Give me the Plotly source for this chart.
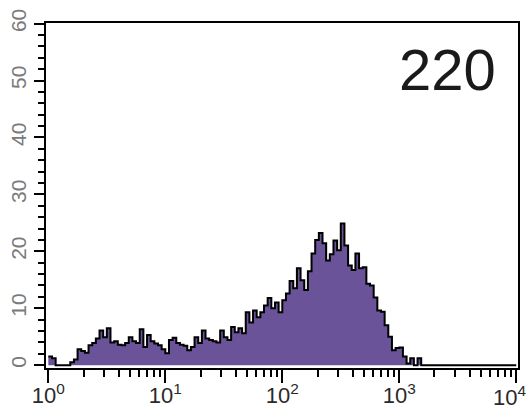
import plotly.graph_objects as go

# Histogram: 128 channels spanning 10^0 .. 10^4 (1/32 decade per channel)
decade_start = 0.0
decades = 4.0
counts = [
    1.5, 1.2, 0, 0, 0, 0, 0.5, 1.0, 2.8, 2.5,
    2.2, 3.5, 3.9, 4.7, 6.1, 4.9, 6.5, 4.0, 4.2, 3.6,
    3.5, 3.9, 4.9, 4.2, 3.9, 6.3, 3.2, 5.3, 4.2, 3.8,
    3.5, 2.8, 2.1, 4.4, 4.8, 3.9, 3.6, 3.4, 2.6, 3.2,
    4.9, 3.9, 6.1, 4.7, 4.4, 4.2, 4.0, 6.1, 4.9, 4.4,
    6.7, 5.8, 6.5, 5.6, 9.3, 7.5, 9.6, 8.4, 9.3, 10.5,
    11.8, 10.0, 11.0, 9.3, 11.4, 12.6, 14.8, 13.5, 17.0, 14.9,
    13.2, 16.5, 19.6, 22.0, 23.2, 21.4, 18.4, 19.5, 21.9, 20.2,
    24.9, 21.0, 17.5, 16.7, 19.6, 17.0, 17.2, 14.3, 14.0, 11.9,
    9.6, 9.4, 7.0, 5.0, 2.6, 3.0, 3.1, 1.5, 0.3, 1.2,
    0, 1.2, 0, 0, 0, 0, 0, 0, 0, 0,
    0, 0, 0, 0, 0, 0, 0, 0, 0, 0,
    0, 0, 0, 0, 0, 0, 0, 0,
]
x_major = [1, 10, 100, 1000, 10000]
x_major_text = ["10<sup>0</sup>", "10<sup>1</sup>", "10<sup>2</sup>",
                "10<sup>3</sup>", "10<sup>4</sup>"]
x_minor = [m * 10 ** k for k in range(4) for m in range(2, 10)]
y_major = [0, 10, 20, 30, 40, 50, 60]
label_text = "220"

# step outline: left edge of each channel, closed at the last right edge
n = len(counts)
width = decades / n
xs = [10 ** (decade_start + i * width) for i in range(n + 1)]
ys = counts + [counts[-1]]

fig = go.Figure()
fig.add_trace(go.Scatter(
    x=xs, y=ys, mode="lines", line=dict(shape="hv", color="black", width=2),
    fill="tozeroy", fillcolor="#6a5399", hoverinfo="skip",
))

fig.add_annotation(
    x=0.85, y=0.865, xref="paper", yref="paper", text=label_text,
    showarrow=False, xanchor="center", yanchor="middle",
    font=dict(family="Liberation Sans, Arial, sans-serif", size=58, color="#1a1a1a"),
)

# the last decade label sits right-aligned so it stays inside the page
tick_font = dict(family="Liberation Sans, Arial, sans-serif", size=22, color="#2a2a2a")
fig.add_annotation(
    x=4, y=0, xref="x", yref="paper", text=x_major_text[-1],
    showarrow=False, xanchor="right", yanchor="top",
    xshift=12, yshift=-12, font=tick_font,
)

fig.update_layout(
    width=531, height=411,
    margin=dict(l=45.5, r=13, t=22.5, b=42.5),
    paper_bgcolor="white", plot_bgcolor="white",
    showlegend=False,
    font=dict(family="Liberation Sans, Arial, sans-serif"),
)
fig.update_xaxes(
    type="log", range=[-0.02, 4.015], automargin=False,
    tickmode="array", tickvals=x_major, ticktext=x_major_text[:-1] + [""],
    ticklabeloverflow="allow", ticklabelstandoff=-6,
    ticks="outside", ticklen=13, tickwidth=2, tickcolor="black",
    tickfont=tick_font,
    minor=dict(tickmode="array", tickvals=x_minor, ticks="outside",
               ticklen=7, tickwidth=2, tickcolor="black", showgrid=False),
    showline=True, linecolor="black", linewidth=2, mirror=True,
    showgrid=False, zeroline=False,
)
fig.update_yaxes(
    range=[-0.5, 60.1], automargin=False,
    tickmode="array", tickvals=y_major, ticktext=[str(v) for v in y_major],
    tickangle=-90, ticklabeloverflow="allow",
    ticks="outside", ticklen=10, tickwidth=2, tickcolor="black",
    tickfont=dict(size=21, color="#7a7a7a"),
    minor=dict(dtick=2, tick0=0, ticks="outside", ticklen=6, tickwidth=2,
               tickcolor="black", showgrid=False),
    showline=True, linecolor="black", linewidth=2, mirror=True,
    showgrid=False, zeroline=False,
)

fig.write_html("out.html")
